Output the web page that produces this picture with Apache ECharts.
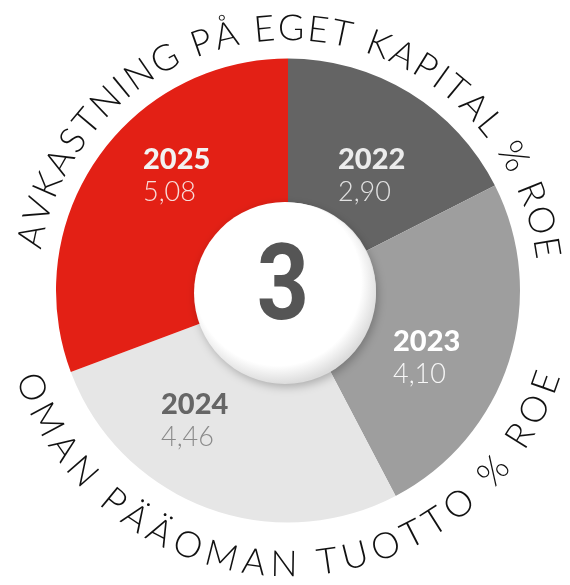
<!DOCTYPE html>
<html>
<head>
<meta charset="utf-8">
<script src="https://cdn.jsdelivr.net/npm/echarts@6/dist/echarts.min.js"></script>
<style>
html,body{margin:0;padding:0;background:#fff;}
#chart{width:570px;height:585px;}
</style>
</head>
<body>
<div id="chart"></div>
<script>
// ---- data ----
const categories = ['2022', '2023', '2024', '2025'];
const values = [2.90, 4.10, 4.46, 5.08];
const centerNumber = '3';
const topTitle = 'AVKASTNING PÅ EGET KAPITAL % ROE';
const bottomTitle = 'OMAN PÄÄOMAN TUOTTO % ROE';

// ---- styles / layout ----
const sliceColors = ['#646464', '#9e9e9e', '#e6e6e6', '#e32015'];
const yearColors = ['#ececec', '#ffffff', '#666666', '#f2f2f2'];
const valColors = ['#e2e2e2', '#f7f7f7', '#8a8a8a', '#f8dcda'];
const labelPos = [[338, 144], [393, 326], [161, 389], [143, 144]];
const CX = 288, CY = 290.5;

function fmt(v) { return v.toFixed(2).replace('.', ','); }

const chart = echarts.init(document.getElementById('chart'), null, {renderer: 'canvas'});

const measureCtx = document.createElement('canvas').getContext('2d');
function arcText(str, font, startDeg, endDeg, r, bottom) {
  measureCtx.font = font;
  const chars = Array.from(str);
  const w = chars.map(c => measureCtx.measureText(c).width);
  let base = 0;
  for (let i = 0; i < chars.length - 1; i++) base += (w[i] + w[i + 1]) / 2;
  const totalArc = Math.abs(endDeg - startDeg) * Math.PI / 180 * r;
  const spacing = (totalArc - base) / (chars.length - 1);
  const dir = endDeg > startDeg ? 1 : -1;
  const els = [];
  let pos = 0;
  for (let i = 0; i < chars.length; i++) {
    if (i > 0) pos += (w[i - 1] + w[i]) / 2 + spacing;
    const deg = startDeg + dir * (pos / r) * 180 / Math.PI;
    const t = deg * Math.PI / 180;
    const x = CX + r * Math.sin(t);
    const y = CY - r * Math.cos(t);
    const rot = bottom ? -(t - Math.PI) : -t;
    if (chars[i] === ' ') continue;
    els.push({
      type: 'text', x: x, y: y, rotation: rot, z: 50,
      style: {text: chars[i], font: font, fill: '#111', align: 'center', verticalAlign: 'middle'}
    });
  }
  return els;
}

const arcFont = '300 36px Lato';
const graphics = [].concat(
  arcText(topTitle, arcFont, -78, 80.6, 262, false),
  arcText(bottomTitle, arcFont, 249.3, 109.6, 274, true),
  [
    {
      type: 'circle', z: 100,
      shape: {cx: 285, cy: 293, r: 91},
      style: {
        fill: {
          type: 'radial', x: 0.46, y: 0.44, r: 0.56,
          colorStops: [{offset: 0, color: '#ffffff'}, {offset: 0.82, color: '#ffffff'}, {offset: 1, color: '#dcdcdc'}]
        },
        shadowBlur: 10, shadowColor: 'rgba(0,0,0,0.25)', shadowOffsetX: 2, shadowOffsetY: 3
      }
    },
    {
      type: 'text', x: 283, y: 292, z: 101, scaleX: 0.86,
      style: {text: centerNumber, font: 'bold 106px Roboto', fill: '#555555', align: 'center', verticalAlign: 'middle'}
    }
  ]
);

chart.setOption({
  animation: false,
  series: [{
    type: 'pie',
    center: [CX, CY],
    radius: [88, 232],
    startAngle: 90,
    clockwise: true,
    silent: true,
    label: {
      show: true,
      position: 'inside',
      formatter: function (p) { return '{y|' + p.name + '}\n{v|' + fmt(p.value) + '}'; }
    },
    labelLine: {show: false},
    labelLayout: function (p) {
      const q = labelPos[p.dataIndex];
      return {x: q[0], y: q[1], align: 'left', verticalAlign: 'top'};
    },
    data: categories.map((c, i) => ({
      name: c,
      value: values[i],
      itemStyle: {color: sliceColors[i]},
      label: {
        rich: {
          y: {fontFamily: 'Lato', fontWeight: 900, fontSize: 29, lineHeight: 32, color: yearColors[i], align: 'left'},
          v: {fontFamily: 'Lato', fontWeight: 300, fontSize: 27, lineHeight: 32, color: valColors[i], align: 'left'}
        }
      }
    }))
  }],
  graphic: {elements: graphics}
});
</script>
</body>
</html>
